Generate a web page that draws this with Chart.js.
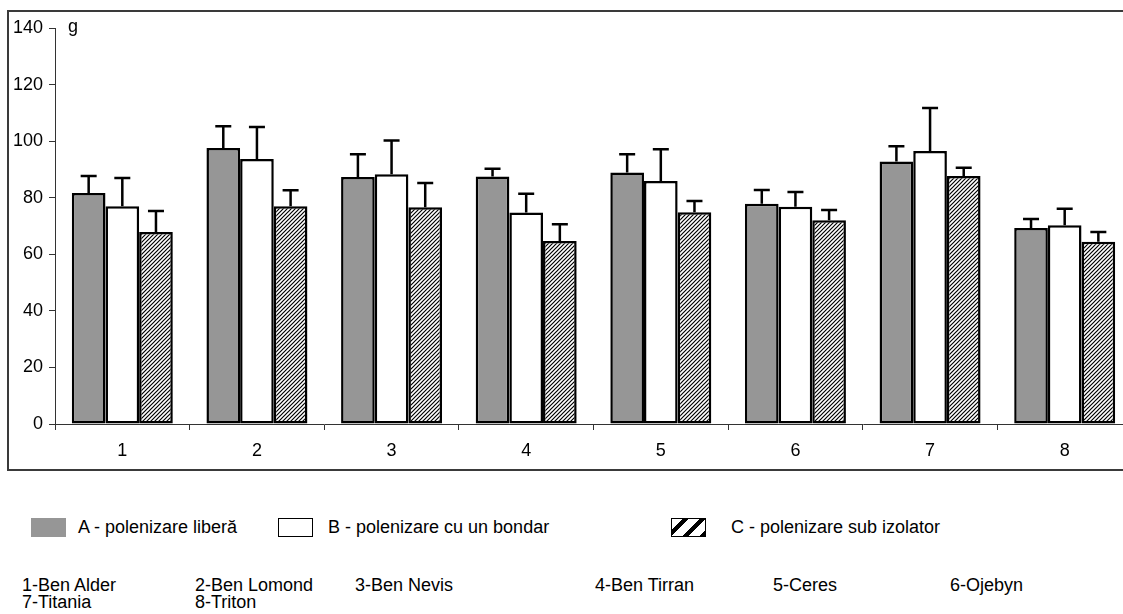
<!DOCTYPE html>
<html>
<head>
<meta charset="utf-8">
<script src="https://cdn.jsdelivr.net/npm/chart.js@4"></script>
<style>
  html, body { margin: 0; padding: 0; background: #fff; overflow: hidden; }
  body { width: 1123px; height: 614px; position: relative; font-family: "Liberation Sans", Arial, sans-serif; color: #000; }
  #frame { position: absolute; left: 7px; top: 10px; width: 1140px; height: 457px; border: 2px solid #3a3a3a; }
  #wrap { position: absolute; left: 0; top: 0; }
  .txt { position: absolute; font-size: 18px; white-space: nowrap; line-height: 18px; }
  .box { position: absolute; top: 518px; width: 35px; height: 19px; box-sizing: border-box; }
</style>
</head>
<body>
<div id="frame"></div>
<div id="wrap"><canvas id="grafik" width="1140" height="480"></canvas></div>
<div id="legend"></div>
<div id="names"></div>
<script>
document.addEventListener("DOMContentLoaded", () => {

  // --- date ---
  const categorii = ['1', '2', '3', '4', '5', '6', '7', '8'];
  const soiuri = ['1-Ben Alder', '2-Ben Lomond', '3-Ben Nevis', '4-Ben Tirran', '5-Ceres', '6-Ojebyn', '7-Titania', '8-Triton'];
  const etichete = ['A - polenizare liberă', 'B - polenizare cu un bondar', 'C - polenizare sub izolator'];

  const valA = [81.7, 97.6, 87.3, 87.5, 88.9, 77.9, 92.8, 69.3];
  const errA = [6.0, 7.7, 8.1, 2.7, 6.5, 4.8, 5.4, 3.2];
  const valB = [77.0, 93.7, 88.3, 74.8, 85.9, 76.8, 96.5, 70.3];
  const errB = [10.0, 11.3, 11.9, 6.6, 11.2, 5.2, 15.2, 5.8];
  const valC = [67.9, 77.0, 76.6, 64.7, 74.9, 72.0, 87.7, 64.4];
  const errC = [7.4, 5.6, 8.6, 5.9, 3.9, 3.7, 2.9, 3.5];

  const yTicks = [0, 20, 40, 60, 80, 100, 120, 140];
  const yUnit = 'g';

  // hasura pentru seria C
  const hatch = document.createElement('canvas');
  hatch.width = 4; hatch.height = 4;
  const hc = hatch.getContext('2d');
  hc.fillStyle = '#fff';
  hc.fillRect(0, 0, 4, 4);
  hc.strokeStyle = '#000';
  hc.lineWidth = 1.2;
  hc.beginPath();
  hc.moveTo(-1, 5); hc.lineTo(5, -1);
  hc.moveTo(-1, 1); hc.lineTo(1, -1);
  hc.moveTo(3, 5); hc.lineTo(5, 3);
  hc.stroke();
  const ctx = document.getElementById('grafik').getContext('2d');
  const hatchPattern = ctx.createPattern(hatch, 'repeat');

  const erori = [errA, errB, errC];

  // bare de eroare (doar in sus)
  const errorBars = {
    id: 'errorBars',
    afterDatasetsDraw(chart) {
      const c = chart.ctx;
      const y = chart.scales.y;
      c.save();
      c.strokeStyle = '#000';
      c.lineWidth = 2.5;
      chart.data.datasets.forEach((ds, i) => {
        chart.getDatasetMeta(i).data.forEach((bar, j) => {
          const top = y.getPixelForValue(ds.data[j] + erori[i][j]);
          c.beginPath();
          c.moveTo(bar.x, bar.y);
          c.lineTo(bar.x, top);
          c.moveTo(bar.x - 8, top);
          c.lineTo(bar.x + 8, top);
          c.stroke();
        });
      });
      c.restore();
    }
  };

  // unitatea "g" langa axa
  const unitLabel = {
    id: 'unitLabel',
    afterDraw(chart) {
      const c = chart.ctx;
      c.save();
      c.font = '18px "Liberation Sans", Arial, sans-serif';
      c.fillStyle = '#000';
      c.textBaseline = 'middle';
      c.fillText(yUnit, 68, chart.scales.y.getPixelForValue(140) - 1);
      c.restore();
    }
  };

  const font = { family: '"Liberation Sans", Arial, sans-serif', size: 18 };

  new Chart(ctx, {
    type: 'bar',
    data: {
      labels: categorii,
      datasets: [
        { label: etichete[0], data: valA, backgroundColor: '#969696' },
        { label: etichete[1], data: valB, backgroundColor: '#ffffff' },
        { label: etichete[2], data: valC, backgroundColor: hatchPattern }
      ].map(d => Object.assign(d, {
        borderColor: '#000', borderWidth: 2.5, borderSkipped: false,
        categoryPercentage: 0.75, barPercentage: 1
      }))
    },
    options: {
      responsive: false,
      animation: false,
      layout: { padding: { top: 28, right: 8, left: 0, bottom: 0 } },
      plugins: { legend: { display: false }, tooltip: { enabled: false } },
      scales: {
        x: {
          afterFit: s => { s.height = 56; },
          grid: { offset: true, drawOnChartArea: false, tickLength: 6, color: '#333' },
          border: { color: '#333', width: 1 },
          ticks: { color: '#000', font, padding: 10 }
        },
        y: {
          min: 0, max: 140,
          afterFit: s => { s.width = 55; },
          afterBuildTicks: s => { s.ticks = yTicks.map(v => ({ value: v })); },
          grid: { drawOnChartArea: false, tickLength: 6, color: '#333' },
          border: { color: '#333', width: 1 },
          ticks: { color: '#000', font, padding: 6 }
        }
      }
    },
    plugins: [errorBars, unitLabel]
  });

  // legenda
  const legend = document.getElementById('legend');
  const boxes = [
    { left: 31, style: 'background:#969696;' },
    { left: 278, style: 'background:#fff;border:1.5px solid #000;' },
    { left: 671, style: 'border:1.5px solid #000;background:repeating-linear-gradient(-45deg,#000 0 4px,#fff 4px 12px);' }
  ];
  const textLeft = [78, 328, 731];
  boxes.forEach((b, i) => {
    legend.insertAdjacentHTML('beforeend',
      `<div class="box" style="left:${b.left}px;${b.style}"></div>` +
      `<div class="txt" style="left:${textLeft[i]}px;top:518px;">${etichete[i]}</div>`);
  });

  // lista soiurilor
  const names = document.getElementById('names');
  const colX = [22, 195, 355, 595, 773, 950];
  soiuri.forEach((s, i) => {
    const row = Math.floor(i / 6);
    const left = colX[i % 6];
    names.insertAdjacentHTML('beforeend',
      `<div class="txt" style="left:${left}px;top:${576 + row * 17}px;">${s}</div>`);
  });
});
</script>
</body>
</html>
